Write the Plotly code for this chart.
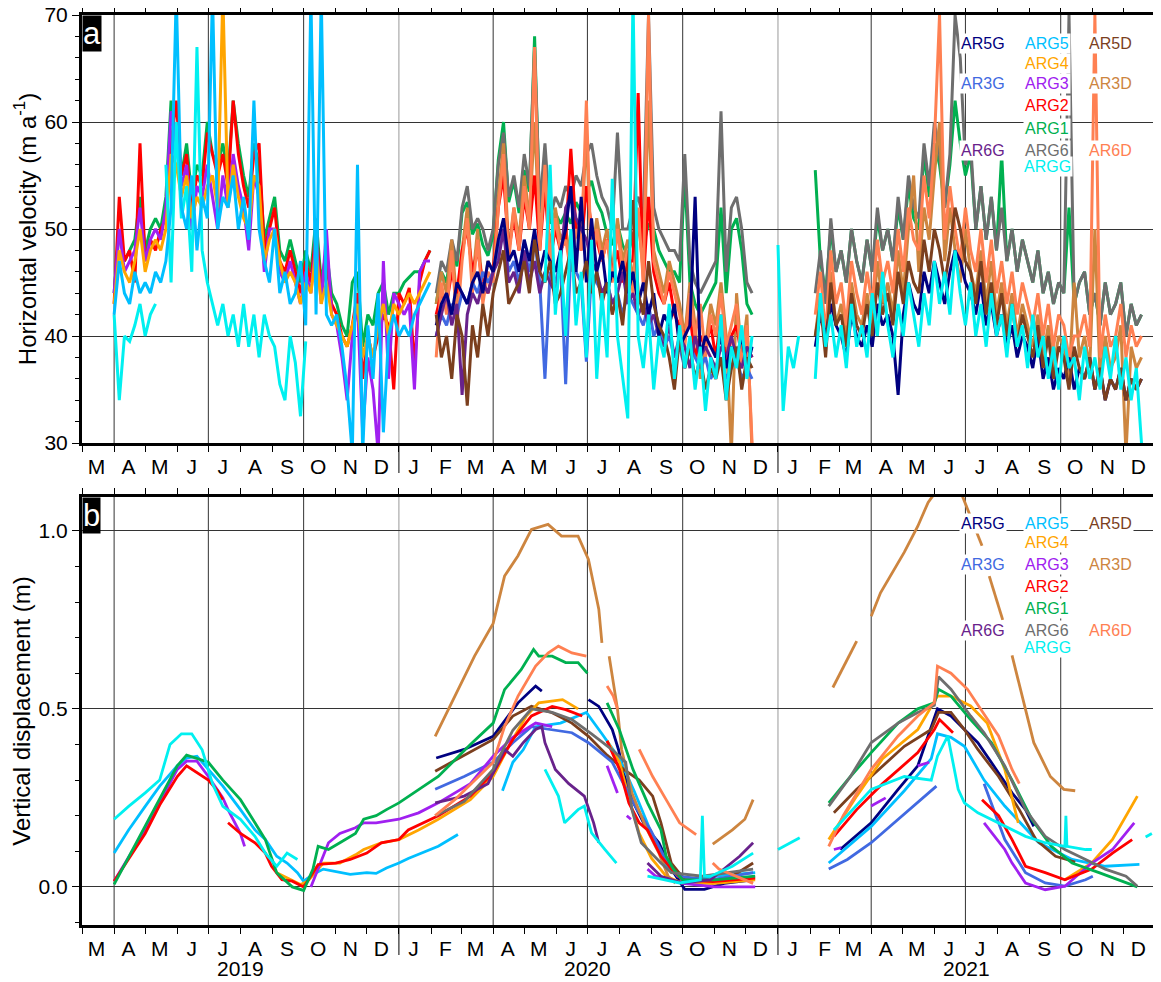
import pandas as pd
import plotly.graph_objects as go

# ---------------- colours ----------------
COLORS = {
    "AR5G": "#000080", "ARG5": "#00BFFF", "AR5D": "#7B3F1E",
    "ARG4": "#FFA500", "AR3G": "#4169E1", "ARG3": "#A020F0",
    "AR3D": "#CD853F", "ARG2": "#FF0000", "ARG1": "#00B050",
    "AR6G": "#68228B", "ARG6": "#6E6E6E", "AR6D": "#FF8052",
    "ARGG": "#00F0F0",
}

# ---------------- panel a: horizontal velocity (m/a), 5-day samples ----------------
A2019_START = "2019-04-01"
ARG1_a_2019 = [44, 50, 47, 48, 49, 53, 48, 50, 51, 50, 53, 62, 58, 55, 58, 53, 56, 55, 60, 57, 56, 58, 55, 62, 58, 55, 53, 58, 56, 49, 51, 53, 48, 47, 49, 47, 45, 48, 46, 51, 45, 48, 44, 43, 41, 40, 45, 46, 39, 42, 41, 44, 45, 42, 44, 44, 45, 45.5, 46, 46, 47, 48]
ARG2_a_2019 = [43, 53, 47, 48, 45, 58, 47, 49, 48, 50, 51, 58, 62, 55, 57, 52, 55, 54, 59, 57, 55, 57, 54, 62, 57, 54, 52, 57, 58, 48, 50, 52, 47, 46, 48, 46, 44, 47, 45, 50, 44, 47, 43, 42, 40, 39, 41, 44, 36, 40, 38, 40, 42, 41, 35, 44, 43, 44.5, 37, 45, 47, 48]
ARG3_a_2019 = [44, 50, 46, 47, 48, 52, 47, 49, 50, 49, 52, 61, 58, 54, 56, 50, 54, 53, 56, 53, 50, 55, 52, 57, 54, 52, 48, 55, 53, 46, 50, 50, 46, 45, 47, 45, 43, 46, 44, 49, 43, 50, 42, 41, 38, 34, 40, 43, 31, 38, 35, 29, 47, 36, 44, 43, 42, 43, 35, 46, 47, 47]
ARG4_a_2019 = [43, 48, 46, 45, 47, 50, 46, 48, 49, 48, 50, 57, 56, 53, 55, 51, 53, 52, 54, 55, 52, 72, 52, 56, 53, 51, 50, 55, 54, 47, 49, 50, 47, 45, 46, 45, 43, 45, 44, 48, 43, 45, 42, 41, 40, 39, 41, 43, 38, 40, 38, 41, 43, 40, 43, 42, 43, 44, 43, 44, 45, 46]
ARG5_a_2019 = [42, 47, 44, 43, 46, 44, 45, 44, 46, 45, 47, 52, 72, 52, 50, 55, 48, 53, 51, 72, 50, 53, 52, 55, 50, 53, 49, 62, 50, 47, 45, 50, 44, 46, 43, 44, 47, 41, 72, 42, 72, 42, 41, 42, 39, 35, 29, 56, 29, 41, 36, 44, 31, 40, 42, 40, 41, 40, 42, 43, 44, 45]
ARGG_a_2019 = [42, 34, 40, 39.5, 41, 43, 40, 42, 43, None, 56, 45, 60, 51, 54, 46, 67, 48, 45, 43, 41, 43, 40, 42, 39, 43, 39, 42, 38, 42, 40, 39, 35.5, 34, 40, 37.5, 32.5, 39.5]

A2020_START = "2020-02-06"
ARG1_a_2020 = [43, 46, 45, 48.5, 46.5, 51.5, 52.5, 49.5, 50.5, 48.5, 47.5, 49.5, 56.5, 60, 52.5, 54.5, 51.5, 55.5, 53.5, 68, 51.5, 56.5, 50.5, 51.5, 50.5, 51.5, 50.5, 52.5, 51.5, 53.5, 54.5, 52.5, 51.5, 49.5, 48.5, 50.5, 48.5, 47.5, 49.5, 50.5, 48.5, 50.5, 50, 48, 47, 46, 46, 45, 55, 45, 43, 42, 43, 44, 45, 52, 44, 50, 51, 48, 43, 42]
ARG6_a_2020 = [44, 47, 46, 49, 47, 52, 54, 50, 51, 50, 48, 50, 56, 59, 53, 55, 52, 57, 54, 67, 52, 58, 51, 53, 52, 54, 53, 55, 54, 57, 58, 55, 53, 52, 50, 59, 50, 50, 52, 53, 51, 70, 52, 50, 49, 48, 48, 47, 57, 47, 45, 44, 45, 46, 47, 61, 46, 52, 53, 50, 45, 44]
AR3D_a_2020 = [43, 46, 44, 49, 43, 48, 52, 45, 50, 44, 47, 46, 53, 58, 48, 52, 49, 55, 51, 60, 49, 55, 48, 52, 49, 50, 47, 51, 49, 59, 47, 51, 48, 50, 46, 51, 47, 49, 45, 51, 46, 62, 48, 46, 44, 47, 45, 43, 40, 45, 41, 36, 39, 43, 41, 45, 40, 29, 44, 38, 42, 29]
ARG2_a_2020 = [42, 44, 43, 46, 44, 48, 50, 46, 48, 45, 44, 46, 52, 55, 48, 51, 48, 53, 50, 55, 48, 54, 47, 50, 48, 49, 57.5, 50, 48, 54, 50, 49, 47, 49, 46, 48, 45, 47, 47, 62.7, 45, 53, 46, 44, 43, 45, 42, 41, 40, 42, 38, 40, 39, 41, 38, 42, 37, 40, 41, 38, 39, 38]
AR6D_a_2020 = [38, 45, 42, 48, 41, 47, 51, 44, 49, 43, 46, 45, 52, 57, 47, 52, 48, 54, 50, 67, 48, 56, 47, 51, 48, 49, 46, 50, 48, 62, 46, 50, 47, 49, 45, 50, 46, 48, 44, 52, 45, 70, 47, 45, 43, 46, 44, 42, 39, 44, 40, 43, 38, 42, 40, 44, 39, 41, 43, 37, 41, 30]
AR3G_a_2020 = [40, 42, 41, 43, 42, 44, 43, 45, 44, 46, 45, 46, 48, 50, 46, 47, 45, 48, 46, 49, 45, 36, 46, 45, 47, 35.5, 48, 46, 45, 37.6, 46, 45, 44, 45, 43, 44, 42, 44, 43, 42, 41, 43, 40, 41, 39, 40, 38, 39, 37, 39, 38, 37, 38, 36, 37, 38, 36, 37, 38, 36, 37, 36]
AR6G_a_2020 = [40, 42, 44, 41, 43, 34.5, 42, 44, 43, 45, 44, 46, 47, 50, 45, 46, 44, 48, 45, 47, 44, 46, 45, 44, 47, 52, 53, 51, 50, 49, 47, 46, 44, 45, 43, 44, 46, 43, 44, 42, 43, 41, 42, 40, 39, 41, 38, 40, 39, 37, 40, 38, 39, 38, 37, 39, 38, 40, 38, 37, 39, 38]
AR5G_a_2020 = [41, 43, 44, 42, 45, 44, 43, 45, 46, 44, 47, 46, 49, 51, 47, 48, 46, 49, 47, 50, 46, 48, 47, 46, 48, 50, 54, 46, 53, 45, 51, 46, 48, 44, 46, 45, 47, 44, 46, 43, 45, 42, 44, 40, 42, 41, 43, 39, 40, 41, 53, 38, 40, 39, 38, 40, 37, 39, 38, 40, 37, 39]
AR5D_a_2020 = [42, 38, 40, 36, 42, 40, 33.5, 41, 38, 43, 40, 44, 46, 48, 43, 44, 45, 47, 44, 49, 46, 45, 47, 43, 44, 46, 48, 44, 45, 47, 44, 46, 43, 45, 42, 44, 41, 46, 52.7, 44, 42, 47, 43, 41, 40, 38, 35, 40, 37, 39, 36, 38, 35, 37, 36, 38, 34, 37, 39, 35, 38, 37]
ARGG_a_2020_START = "2020-05-21"
ARGG_a_2020 = [45, 56, 42, 48, 40, 50, 41, 46, 38, 49, 36, 44, 38, 54.7, 40, 36, 32.3, 72, 40, 37, 42, 35, 40, 38, 43, 36, 41, 37, 40, 35, 39, 33, 38, 36, 42, 34, 39, 37, 41, 36, 40]

A2021_START = "2021-02-06"
ARGG_a_2021_JAN_START = "2021-01-01"
ARGG_a_2021_JAN = [48.5, 33, 39, 37, 40]
ARG1_a_2021 = [55.5, 47, 44, 50, 46, 48, 45, 50, 47, 45, 49, 46, 51, 48, 50, 47, 52, 49, 54, 51, 50, 57, 53, 58, 56, 52, 56, 62, 58, 55, 57, 50, 54, 49, 53, 48, 57, 47, 50, 46, 49, 47, 45, 48, 44, 46, 43, 45, 44, 52, 43, 45, 46, 42, 44, 41, 45, 42, 43, 45, 40, 43, 41, 42]
ARG6_a_2021 = [44, 48, 43, 51, 46, 48, 45, 50, 47, 45, 49, 46, 52, 48, 50, 47, 53, 49, 55, 52, 51, 58, 54, 60, 57, 52, 57, 70, 66, 56, 58, 50, 54, 49, 53, 48, 52, 47, 50, 46, 49, 47, 45, 48, 44, 46, 43, 45, 44, 70, 43, 45, 46, 42, 44, 41, 45, 42, 43, 45, 40, 43, 41, 42]
AR3D_a_2021 = [40, 44, 39, 46, 41, 43, 40, 45, 42, 41, 44, 41, 47, 43, 45, 42, 48, 44, 50, 55, 46, 52, 49, 55, 60, 47, 52, 48, 45, 50, 46, 44, 48, 43, 47, 42, 45, 41, 44, 40, 43, 41, 39, 42, 38, 41, 37, 40, 39, 36, 45, 38, 40, 37, 50, 36, 40, 37, 38, 41, 29, 39, 37, 38]
AR6D_a_2021 = [42, 46, 40, 48, 43, 45, 41, 47, 44, 42, 46, 43, 49, 45, 47, 44, 50, 46, 52, 49, 48, 55, 51, 58, 70, 49, 54, 50, 47, 52, 48, 46, 50, 45, 49, 44, 47, 43, 46, 42, 45, 43, 41, 44, 40, 43, 39, 42, 41, 38, 40, 40, 42, 39, 70, 38, 42, 39, 40, 43, 38, 41, 39, 40]
AR5G_a_2021 = [39, 42, 40, 43, 41, 40, 38, 42, 40, 39, 41, 39, 43, 41, 42, 40, 34.5, 42, 45, 43, 42, 46, 44, 47, 45, 43, 46, 48, 47, 45, 44, 42, 45, 41, 43, 40, 42, 39, 41, 38, 40, 39, 37, 40, 36, 38, 35, 37, 36, 38, 35, 37, 36, 38, 35, 37, 34, 36, 35, 37, 34, 36, 35, 36]
AR5D_a_2021 = [40, 43, 38, 45, 41, 42, 39, 44, 41, 40, 43, 40, 45, 42, 44, 41, 46, 43, 47, 45, 44, 49, 46, 50, 48, 45, 48, 52, 50, 47, 46, 43, 47, 42, 45, 41, 44, 40, 43, 39, 42, 40, 38, 41, 37, 40, 36, 39, 38, 35, 39, 37, 36, 38, 35, 37, 34, 36, 35, 37, 34, 36, 35, 36]
ARGG_a_2021 = [36, 44, 39, 42, 38, 41, 37, 43, 39, 41, 38, 44, 40, 46, 41, 38, 43, 40, 45, 42, 39, 44, 41, 47, 43, 46, 42, 48, 44, 41, 45, 40, 43, 39, 44, 40, 42, 38, 43, 39, 41, 37, 42, 38, 40, 36, 39, 35, 40, 37, 38, 34, 39, 36, 38, 35, 39, 36, 40, 35, 38, 34, 37, 30]

# ---------------- panel b: vertical displacement (m) ----------------
ARG2_b = [("2019-04-01", 0.016), ("2019-04-15", 0.08), ("2019-05-01", 0.15), ("2019-05-15", 0.23), ("2019-06-01", 0.31), ("2019-06-10", 0.34), ("2019-06-20", 0.32), ("2019-07-01", 0.30), ("2019-07-10", 0.27), ("2019-07-15", 0.245), ("2019-07-18", None), ("2019-07-20", 0.18), ("2019-08-01", 0.15), ("2019-08-15", 0.124), ("2019-08-25", 0.095), ("2019-08-31", 0.058), ("2019-09-10", 0.02), ("2019-09-20", 0.016), ("2019-10-01", 0.0), ("2019-10-10", 0.04), ("2019-10-15", 0.063), ("2019-11-01", 0.067), ("2019-11-15", 0.077), ("2019-12-01", 0.095), ("2019-12-15", 0.124), ("2020-01-01", 0.133), ("2020-01-10", 0.16), ("2020-02-08", 0.20), ("2020-03-10", 0.255), ("2020-04-01", 0.32), ("2020-04-20", 0.414), ("2020-05-08", 0.48), ("2020-05-28", 0.507), ("2020-06-10", 0.498), ("2020-06-26", 0.48), ("2020-07-05", None), ("2020-07-20", 0.41), ("2020-08-01", 0.33), ("2020-08-10", 0.236), ("2020-08-20", 0.18), ("2020-08-28", 0.16), ("2020-09-10", 0.086), ("2020-09-20", 0.05), ("2020-10-01", 0.02), ("2020-10-30", 0.015), ("2020-11-20", 0.02), ("2020-12-10", 0.025), ("2020-12-15", None), ("2021-02-24", 0.142), ("2021-03-18", 0.217), ("2021-04-12", 0.29), ("2021-05-16", 0.377), ("2021-06-01", 0.442), ("2021-06-06", 0.47), ("2021-06-19", 0.433), ("2021-06-25", None), ("2021-07-17", 0.245), ("2021-08-02", 0.2), ("2021-08-15", 0.133), ("2021-08-28", 0.058), ("2021-09-16", 0.04), ("2021-10-05", 0.02), ("2021-10-31", 0.05), ("2021-11-20", 0.095), ("2021-12-09", 0.133)]
ARG3_b = [("2019-04-01", 0.016), ("2019-05-01", 0.16), ("2019-06-01", 0.33), ("2019-06-10", 0.353), ("2019-06-20", 0.353), ("2019-07-01", 0.31), ("2019-07-15", 0.25), ("2019-07-20", 0.217), ("2019-08-01", 0.15), ("2019-08-05", 0.114), ("2019-08-08", None), ("2019-10-08", 0.0), ("2019-10-20", 0.086), ("2019-10-25", 0.124), ("2019-11-05", 0.15), ("2019-11-20", 0.166), ("2019-11-28", 0.18), ("2019-12-10", 0.18), ("2020-01-01", 0.19), ("2020-01-20", 0.208), ("2020-02-08", 0.236), ("2020-03-10", 0.29), ("2020-04-01", 0.367), ("2020-04-20", 0.42), ("2020-05-12", 0.46), ("2020-05-28", 0.45), ("2020-06-05", None), ("2020-07-20", 0.34), ("2020-07-30", 0.264), ("2020-08-04", None), ("2020-08-08", 0.2), ("2020-08-12", 0.19), ("2020-08-15", None), ("2020-08-28", 0.05), ("2020-09-05", 0.03), ("2020-10-01", 0.01), ("2020-11-01", 0.0), ("2020-12-10", 0.0), ("2020-12-15", None), ("2021-02-24", 0.105), ("2021-03-03", 0.11), ("2021-03-05", None), ("2021-04-01", 0.227), ("2021-04-15", 0.25), ("2021-04-18", None), ("2021-05-16", 0.34), ("2021-05-27", 0.35), ("2021-05-30", None), ("2021-07-19", 0.18), ("2021-08-08", 0.105), ("2021-08-15", 0.067), ("2021-08-28", 0.011), ("2021-09-16", -0.008), ("2021-10-05", 0.002), ("2021-10-31", 0.067), ("2021-11-20", 0.105), ("2021-12-11", 0.18)]
ARG4_b = [("2019-09-05", 0.04), ("2019-09-28", 0.007), ("2019-10-05", 0.016), ("2019-10-20", 0.067), ("2019-11-05", 0.067), ("2019-11-20", 0.09), ("2019-11-28", 0.105), ("2019-12-15", 0.124), ("2020-01-01", 0.133), ("2020-01-20", 0.16), ("2020-02-08", 0.19), ("2020-03-10", 0.245), ("2020-04-01", 0.31), ("2020-04-17", 0.40), ("2020-05-03", 0.48), ("2020-05-15", 0.517), ("2020-06-07", 0.526), ("2020-06-22", 0.50), ("2020-06-28", None), ("2020-07-20", 0.41), ("2020-08-01", 0.35), ("2020-08-10", 0.25), ("2020-08-20", 0.15), ("2020-09-01", 0.08), ("2020-09-15", 0.03), ("2020-10-01", 0.01), ("2020-11-01", 0.01), ("2020-12-10", 0.02), ("2020-12-15", None), ("2021-02-19", 0.133), ("2021-03-18", 0.255), ("2021-04-12", 0.36), ("2021-05-16", 0.442), ("2021-06-04", 0.536), ("2021-06-17", 0.536), ("2021-07-06", 0.508), ("2021-07-22", 0.46), ("2021-08-08", 0.33), ("2021-08-21", 0.18), ("2021-08-25", None), ("2021-10-05", 0.02), ("2021-10-31", 0.067), ("2021-11-20", 0.133), ("2021-12-14", 0.255)]
ARG1_b = [("2019-04-01", 0.007), ("2019-05-01", 0.17), ("2019-06-01", 0.34), ("2019-06-10", 0.37), ("2019-06-20", 0.36), ("2019-07-01", 0.35), ("2019-07-15", 0.30), ("2019-08-01", 0.245), ("2019-08-15", 0.18), ("2019-08-25", 0.133), ("2019-09-05", 0.04), ("2019-09-20", 0.0), ("2019-10-01", -0.01), ("2019-10-10", 0.05), ("2019-10-15", 0.114), ("2019-10-25", 0.105), ("2019-11-05", 0.124), ("2019-11-20", 0.15), ("2019-11-28", 0.19), ("2019-12-10", 0.20), ("2019-12-20", 0.217), ("2020-01-01", 0.236), ("2020-01-20", 0.273), ("2020-02-08", 0.31), ("2020-03-10", 0.40), ("2020-04-01", 0.46), ("2020-04-12", 0.554), ("2020-04-28", 0.61), ("2020-05-10", 0.667), ("2020-05-15", 0.648), ("2020-05-28", 0.648), ("2020-06-10", 0.63), ("2020-06-22", 0.63), ("2020-07-01", 0.60), ("2020-07-05", None), ("2020-07-20", 0.517), ("2020-08-01", 0.44), ("2020-08-14", 0.33), ("2020-08-28", 0.236), ("2020-09-10", 0.16), ("2020-09-15", 0.086), ("2020-09-22", 0.05), ("2020-10-01", 0.02), ("2020-11-01", 0.02), ("2020-12-10", 0.03), ("2020-12-15", None), ("2021-02-19", 0.236), ("2021-03-12", 0.31), ("2021-04-01", 0.377), ("2021-04-27", 0.46), ("2021-05-16", 0.50), ("2021-06-01", 0.517), ("2021-06-05", 0.555), ("2021-06-17", 0.536), ("2021-07-06", 0.47), ("2021-07-26", 0.405), ("2021-08-15", 0.30), ("2021-09-03", 0.19), ("2021-09-22", 0.114), ("2021-10-12", 0.067), ("2021-11-07", 0.04), ("2021-11-26", 0.02), ("2021-12-14", 0.0)]
ARG5_b = [("2019-04-01", 0.095), ("2019-04-15", 0.16), ("2019-05-01", 0.226), ("2019-05-15", 0.283), ("2019-06-01", 0.34), ("2019-06-10", 0.362), ("2019-06-20", 0.367), ("2019-07-01", 0.33), ("2019-07-15", 0.283), ("2019-08-01", 0.217), ("2019-08-15", 0.16), ("2019-08-25", 0.133), ("2019-09-05", 0.086), ("2019-09-15", 0.067), ("2019-09-25", 0.04), ("2019-10-01", 0.016), ("2019-10-10", 0.035), ("2019-10-20", 0.05), ("2019-11-01", 0.044), ("2019-11-15", 0.035), ("2019-12-01", 0.04), ("2019-12-10", 0.038), ("2019-12-20", 0.053), ("2020-01-01", 0.067), ("2020-01-10", 0.08), ("2020-02-08", 0.114), ("2020-02-27", 0.147), ("2020-03-02", None), ("2020-04-10", 0.27), ("2020-04-20", 0.35), ("2020-04-30", 0.385), ("2020-05-12", 0.45), ("2020-06-05", 0.46), ("2020-06-30", 0.49), ("2020-07-15", 0.43), ("2020-08-01", 0.36), ("2020-08-15", 0.27), ("2020-09-01", 0.15), ("2020-09-15", 0.06), ("2020-10-01", 0.02), ("2020-11-01", 0.03), ("2020-12-10", 0.04), ("2020-12-15", None), ("2021-02-19", 0.067), ("2021-04-01", 0.17), ("2021-05-03", 0.27), ("2021-05-29", 0.36), ("2021-06-04", 0.43), ("2021-06-17", 0.42), ("2021-06-30", 0.395), ("2021-07-19", 0.30), ("2021-08-08", 0.227), ("2021-09-10", 0.124), ("2021-10-12", 0.077), ("2021-11-13", 0.058), ("2021-12-16", 0.063)]
ARGG_b = [("2019-04-01", 0.19), ("2019-04-15", 0.226), ("2019-05-01", 0.264), ("2019-05-15", 0.30), ("2019-05-25", 0.40), ("2019-06-05", 0.43), ("2019-06-15", 0.43), ("2019-06-25", 0.385), ("2019-07-05", 0.29), ("2019-07-15", 0.226), ("2019-08-01", 0.19), ("2019-08-15", 0.142), ("2019-08-25", 0.095), ("2019-09-05", 0.058), ("2019-09-15", 0.095), ("2019-09-25", 0.077), ("2019-09-28", None), ("2020-05-21", 0.33), ("2020-06-03", 0.255), ("2020-06-09", 0.18), ("2020-06-22", 0.217), ("2020-06-28", 0.227), ("2020-07-05", 0.152), ("2020-07-18", 0.105), ("2020-07-29", 0.067), ("2020-08-05", None), ("2020-08-28", 0.03), ("2020-09-28", 0.011), ("2020-10-18", 0.02), ("2020-10-20", 0.2), ("2020-10-22", 0.03), ("2020-10-28", 0.03), ("2020-11-18", 0.058), ("2020-12-08", 0.095), ("2020-12-12", None), ("2021-01-01", 0.105), ("2021-01-22", 0.138), ("2021-01-25", None), ("2021-02-24", 0.16), ("2021-04-01", 0.274), ("2021-05-03", 0.31), ("2021-05-29", 0.30), ("2021-06-04", 0.367), ("2021-06-14", 0.424), ("2021-06-24", 0.274), ("2021-06-30", 0.236), ("2021-07-13", 0.208), ("2021-08-02", 0.18), ("2021-08-15", 0.16), ("2021-08-28", 0.142), ("2021-09-16", 0.124), ("2021-10-05", 0.114), ("2021-10-06", 0.2), ("2021-10-07", 0.114), ("2021-10-25", 0.105), ("2021-10-31", 0.105), ("2021-11-03", None), ("2021-12-22", 0.14), ("2021-12-28", 0.15)]
AR3D_b = [("2020-02-05", 0.423), ("2020-02-24", 0.536), ("2020-03-14", 0.648), ("2020-04-01", 0.74), ("2020-04-12", 0.873), ("2020-04-25", 0.93), ("2020-05-08", 1.004), ("2020-05-24", 1.018), ("2020-06-06", 0.985), ("2020-06-22", 0.985), ("2020-07-02", 0.92), ("2020-07-12", 0.78), ("2020-07-15", 0.685), ("2020-07-18", None), ("2020-07-22", 0.648), ("2020-07-30", 0.5), ("2020-08-03", 0.386), ("2020-08-13", 0.264), ("2020-08-26", 0.17), ("2020-09-08", 0.095), ("2020-09-17", 0.03), ("2020-09-24", 0.01), ("2020-09-30", None), ("2020-10-30", 0.12), ("2020-11-18", 0.16), ("2020-11-30", 0.19), ("2020-12-08", 0.245), ("2020-12-12", None), ("2021-02-23", 0.56), ("2021-03-18", 0.69), ("2021-03-22", None), ("2021-04-01", 0.76), ("2021-04-10", 0.826), ("2021-05-03", 0.94), ("2021-05-16", 1.013), ("2021-05-26", 1.08), ("2021-06-05", 1.12), ("2021-06-10", None), ("2021-06-28", 1.098), ("2021-07-11", 1.005), ("2021-07-17", 0.958), ("2021-07-20", None), ("2021-07-24", 0.873), ("2021-08-06", 0.75), ("2021-08-10", None), ("2021-08-15", 0.65), ("2021-08-23", 0.555), ("2021-09-05", 0.405), ("2021-09-21", 0.31), ("2021-10-04", 0.274), ("2021-10-15", 0.27)]
AR6D_b = [("2020-02-05", 0.20), ("2020-02-24", 0.245), ("2020-03-18", 0.31), ("2020-04-01", 0.35), ("2020-04-12", 0.45), ("2020-04-25", 0.536), ("2020-05-12", 0.62), ("2020-05-24", 0.657), ("2020-06-03", 0.676), ("2020-06-16", 0.657), ("2020-06-30", 0.648), ("2020-07-04", None), ("2020-07-20", 0.564), ("2020-07-26", 0.536), ("2020-07-30", 0.50), ("2020-08-05", None), ("2020-08-20", 0.386), ("2020-09-02", 0.31), ("2020-09-15", 0.245), ("2020-09-28", 0.18), ("2020-10-14", 0.147), ("2020-10-20", None), ("2020-10-30", 0.067), ("2020-11-05", 0.05), ("2020-12-08", 0.01), ("2020-12-12", None), ("2021-02-19", 0.114), ("2021-03-05", 0.20), ("2021-04-01", 0.33), ("2021-04-27", 0.424), ("2021-05-16", 0.48), ("2021-06-01", 0.517), ("2021-06-04", 0.62), ("2021-06-17", 0.60), ("2021-07-03", 0.555), ("2021-07-20", 0.48), ("2021-08-02", 0.424), ("2021-08-15", 0.33), ("2021-08-22", 0.29)]
AR5D_b = [("2020-02-05", 0.325), ("2020-03-03", 0.367), ("2020-04-01", 0.414), ("2020-04-20", 0.48), ("2020-05-08", 0.507), ("2020-05-28", 0.489), ("2020-06-16", 0.46), ("2020-07-02", 0.423), ("2020-07-20", 0.37), ("2020-08-05", 0.33), ("2020-08-20", 0.30), ("2020-09-02", 0.255), ("2020-09-10", 0.18), ("2020-09-20", 0.067), ("2020-10-03", 0.02), ("2020-10-30", 0.01), ("2020-11-18", 0.03), ("2020-12-08", 0.067), ("2020-12-12", None), ("2021-02-24", 0.208), ("2021-03-18", 0.274), ("2021-04-01", 0.31), ("2021-05-03", 0.395), ("2021-05-29", 0.442), ("2021-06-05", 0.49), ("2021-06-17", 0.49), ("2021-06-30", 0.442), ("2021-07-13", 0.386), ("2021-08-02", 0.31), ("2021-08-22", 0.217), ("2021-09-07", 0.133), ("2021-09-26", 0.086), ("2021-10-15", 0.07)]
AR5G_b = [("2020-02-06", 0.362), ("2020-03-04", 0.386), ("2020-04-01", 0.423), ("2020-04-25", 0.517), ("2020-05-12", 0.564), ("2020-05-18", 0.55), ("2020-05-22", None), ("2020-07-02", 0.526), ("2020-07-12", 0.507), ("2020-07-25", 0.442), ("2020-07-31", 0.386), ("2020-08-06", 0.31), ("2020-08-13", 0.245), ("2020-08-26", 0.17), ("2020-09-08", 0.124), ("2020-09-20", 0.05), ("2020-10-03", -0.007), ("2020-10-22", -0.007), ("2020-11-10", 0.01), ("2020-12-08", 0.02), ("2020-12-12", None), ("2021-03-02", 0.105), ("2021-04-01", 0.18), ("2021-04-27", 0.274), ("2021-05-16", 0.34), ("2021-06-04", 0.50), ("2021-06-17", 0.48), ("2021-06-30", 0.442), ("2021-07-13", 0.405), ("2021-08-02", 0.32), ("2021-08-15", 0.264), ("2021-08-28", 0.217), ("2021-09-05", 0.17)]
AR3G_b = [("2020-02-05", 0.274), ("2020-03-04", 0.31), ("2020-04-01", 0.35), ("2020-04-20", 0.405), ("2020-05-08", 0.45), ("2020-05-28", 0.442), ("2020-06-16", 0.433), ("2020-07-02", 0.405), ("2020-07-25", 0.35), ("2020-08-06", 0.283), ("2020-08-18", 0.217), ("2020-08-31", 0.16), ("2020-09-13", 0.086), ("2020-09-26", 0.03), ("2020-10-28", 0.02), ("2020-12-08", 0.04), ("2020-12-12", None), ("2021-02-19", 0.05), ("2021-03-09", 0.077), ("2021-04-01", 0.124), ("2021-04-27", 0.19), ("2021-05-16", 0.236), ("2021-06-03", 0.283), ("2021-06-06", None), ("2021-07-19", 0.29), ("2021-08-08", 0.133), ("2021-08-28", 0.04), ("2021-09-16", 0.011), ("2021-10-05", 0.002), ("2021-10-25", 0.02), ("2021-11-01", 0.03)]
AR6G_b = [("2020-02-05", 0.236), ("2020-03-04", 0.255), ("2020-03-27", 0.29), ("2020-04-12", 0.386), ("2020-04-20", 0.367), ("2020-04-30", 0.405), ("2020-05-12", 0.442), ("2020-05-18", 0.45), ("2020-05-21", 0.405), ("2020-05-31", 0.33), ("2020-06-13", 0.29), ("2020-06-28", 0.255), ("2020-07-07", 0.18), ("2020-07-12", 0.124), ("2020-07-15", None), ("2020-08-28", 0.067), ("2020-09-10", 0.03), ("2020-10-01", 0.011), ("2020-10-28", 0.02), ("2020-11-25", 0.086), ("2020-12-08", 0.124)]
ARG6_b = [("2020-02-05", 0.20), ("2020-03-04", 0.24), ("2020-04-01", 0.33), ("2020-04-20", 0.44), ("2020-05-08", 0.50), ("2020-05-28", 0.49), ("2020-06-16", 0.47), ("2020-07-05", 0.43), ("2020-07-25", 0.385), ("2020-08-07", 0.35), ("2020-08-13", 0.217), ("2020-08-22", 0.124), ("2020-09-10", 0.067), ("2020-09-20", 0.04), ("2020-10-20", 0.03), ("2020-12-08", 0.05), ("2020-12-12", None), ("2021-02-19", 0.227), ("2021-03-12", 0.31), ("2021-04-01", 0.405), ("2021-04-27", 0.46), ("2021-05-16", 0.49), ("2021-06-01", 0.51), ("2021-06-05", 0.59), ("2021-06-17", 0.555), ("2021-07-06", 0.48), ("2021-07-19", 0.433), ("2021-08-08", 0.34), ("2021-08-28", 0.217), ("2021-09-16", 0.142), ("2021-10-05", 0.105), ("2021-10-25", 0.077), ("2021-11-13", 0.05), ("2021-12-03", 0.03), ("2021-12-14", 0.002)]

# ---------------- axis labels ----------------
MONTH_LETTERS = list("MAMJJASOND") + list("JFMAMJJASOND") + list("JFMAMJJASOND")
YEAR_LABELS = ["2019", "2020", "2021"]
YEAR_LABEL_DATES = ["2019-08-01", "2020-07-01", "2021-07-02"]
QUARTER_LINES = ["2019-04-01", "2019-07-01", "2019-10-01", "2020-01-01", "2020-04-01", "2020-07-01",
                 "2020-10-01", "2021-01-01", "2021-04-01", "2021-07-01", "2021-10-01"]
YEAR_STARTS = ["2020-01-01", "2021-01-01"]
LEGEND_ITEMS = [("AR5G", 0, 0), ("ARG5", 1, 0), ("AR5D", 2, 0), ("ARG4", 1, 1), ("AR3G", 0, 2),
                ("ARG3", 1, 2), ("AR3D", 2, 2), ("ARG2", 1, 3), ("ARG1", 1, 4), ("AR6G", 0, 5),
                ("ARG6", 1, 5), ("AR6D", 2, 5), ("ARGG", 1, 6)]

fig = go.Figure()


def add_5d(name, start, vals, xa, ya, width=3):
    x = pd.date_range(start, periods=len(vals), freq="5D")
    fig.add_trace(go.Scatter(x=x, y=vals, mode="lines", xaxis=xa, yaxis=ya,
                             line=dict(color=COLORS[name], width=width),
                             showlegend=False, hoverinfo="skip"))


def add_pairs(name, pairs, xa, ya, width=2.8):
    fig.add_trace(go.Scatter(x=[p[0] for p in pairs], y=[p[1] for p in pairs],
                             mode="lines", xaxis=xa, yaxis=ya,
                             line=dict(color=COLORS[name], width=width),
                             showlegend=False, hoverinfo="skip"))


# panel a (bottom -> top drawing order)
add_5d("ARG1", A2019_START, ARG1_a_2019, "x", "y")
add_5d("ARG2", A2019_START, ARG2_a_2019, "x", "y")
add_5d("ARG3", A2019_START, ARG3_a_2019, "x", "y")
add_5d("ARG4", A2019_START, ARG4_a_2019, "x", "y")
add_5d("ARG1", A2020_START, ARG1_a_2020, "x", "y")
add_5d("ARG1", A2021_START, ARG1_a_2021, "x", "y")
add_5d("ARG6", A2020_START, ARG6_a_2020, "x", "y")
add_5d("ARG6", A2021_START, ARG6_a_2021, "x", "y")
add_5d("AR3D", A2020_START, AR3D_a_2020, "x", "y")
add_5d("AR3D", A2021_START, AR3D_a_2021, "x", "y")
add_5d("ARG2", A2020_START, ARG2_a_2020, "x", "y")
add_5d("AR6D", A2020_START, AR6D_a_2020, "x", "y")
add_5d("AR6D", A2021_START, AR6D_a_2021, "x", "y")
add_5d("AR3G", A2020_START, AR3G_a_2020, "x", "y")
add_5d("AR6G", A2020_START, AR6G_a_2020, "x", "y")
add_5d("AR5G", A2020_START, AR5G_a_2020, "x", "y")
add_5d("AR5G", A2021_START, AR5G_a_2021, "x", "y")
add_5d("AR5D", A2020_START, AR5D_a_2020, "x", "y")
add_5d("AR5D", A2021_START, AR5D_a_2021, "x", "y")
add_5d("ARGG", A2019_START, ARGG_a_2019, "x", "y")
add_5d("ARGG", ARGG_a_2020_START, ARGG_a_2020, "x", "y")
add_5d("ARGG", ARGG_a_2021_JAN_START, ARGG_a_2021_JAN, "x", "y")
add_5d("ARGG", A2021_START, ARGG_a_2021, "x", "y")
add_5d("ARG5", A2019_START, ARG5_a_2019, "x", "y")

# panel b
for nm, pr in [("AR5G", AR5G_b), ("ARG5", ARG5_b), ("AR5D", AR5D_b), ("ARG4", ARG4_b),
               ("AR3G", AR3G_b), ("ARG3", ARG3_b), ("AR3D", AR3D_b), ("ARG2", ARG2_b),
               ("ARG1", ARG1_b), ("AR6G", AR6G_b), ("ARG6", ARG6_b), ("AR6D", AR6D_b),
               ("ARGG", ARGG_b)]:
    add_pairs(nm, pr, "x2", "y2")

# ---------------- layout ----------------
OFF = 8                      # page body margin of the html page
W, H = 1161 - OFF, 982 - OFF
ML, MR, MT, MB = 82 - OFF, 5, 15 - OFF, 57
PH = H - MT - MB
A_BOTTOM, B_TOP = 443, 497   # page pixel rows
dom_a = [(925 - A_BOTTOM) / PH, 1.0]
dom_b = [0.0, (925 - B_TOP) / PH]


def py(ypage):
    return (925 - ypage) / PH


def px(xpage):
    return (xpage - 82) / (W - ML - MR)


month_mid = [d + pd.Timedelta(days=14) for d in pd.date_range("2019-03-01", "2021-12-01", freq="MS")]
FONT = "Liberation Sans, Arial, Helvetica, sans-serif"

xcommon = dict(range=["2019-03-01", "2022-01-01"], tickmode="array", tickvals=month_mid,
               ticktext=MONTH_LETTERS, ticks="", showgrid=False, zeroline=False, automargin=False,
               showline=True, linewidth=3, linecolor="black", mirror="ticks",
               ticklabelstandoff=3, tickfont=dict(size=21, family=FONT), ticklabeloverflow="allow",
               minor=dict(ticks="outside", ticklen=6, tickwidth=1, tickcolor="black",
                          dtick="M1", tick0="2019-03-01", showgrid=False))
fig.update_layout(
    width=W, height=H, margin=dict(l=ML, r=MR, t=MT, b=MB, autoexpand=False),
    plot_bgcolor="white", paper_bgcolor="white", showlegend=False,
    font=dict(family=FONT, color="black"),
    xaxis=dict(domain=[0, 1], anchor="y", **xcommon),
    xaxis2=dict(domain=[0, 1], anchor="y2", **xcommon),
    yaxis=dict(domain=dom_a, anchor="x", range=[30, 70], tickvals=[30, 40, 50, 60, 70],
               ticks="outside", ticklen=7, tickwidth=1, tickcolor="black", automargin=False,
               ticklabeloverflow="allow",
               showgrid=True, gridcolor="#333333", gridwidth=1, zeroline=False,
               showline=True, linewidth=3, linecolor="black", mirror="ticks",
               tickfont=dict(size=21, family=FONT),
               minor=dict(ticks="outside", ticklen=4, dtick=2, tick0=30, tickcolor="black", showgrid=False),
               title=dict(text="Horizontal velocity (m a<sup>-1</sup>)", font=dict(size=24, family=FONT), standoff=2)),
    yaxis2=dict(domain=dom_b, anchor="x2", range=[-0.107, 1.095], tickvals=[0, 0.5, 1.0],
                ticktext=["0.0", "0.5", "1.0"], automargin=False, ticklabeloverflow="allow",
                ticks="outside", ticklen=7, tickwidth=1, tickcolor="black",
                showgrid=True, gridcolor="#333333", gridwidth=1, zeroline=False,
                showline=True, linewidth=3, linecolor="black", mirror="ticks",
                tickfont=dict(size=21, family=FONT),
                minor=dict(ticks="outside", ticklen=4, dtick=0.1, tick0=0, tickcolor="black", showgrid=False),
                title=dict(text="Vertical displacement (m)", font=dict(size=24, family=FONT), standoff=2)),
)

shapes = []
for xa, ya in [("x", "y"), ("x2", "y2")]:
    for d in QUARTER_LINES:
        col = "#999999" if d in YEAR_STARTS else "#333333"
        shapes.append(dict(type="line", xref=xa, yref=ya + " domain", x0=d, x1=d, y0=0, y1=1,
                           line=dict(color=col, width=1), layer="below"))
    for d in YEAR_STARTS:
        shapes.append(dict(type="line", xref=xa, yref=ya + " domain", x0=d, x1=d, y0=0, y1=-30 / 428,
                           line=dict(color="black", width=1), layer="above"))
fig.update_layout(shapes=shapes)

ann = []
# panel letters
for lab, ya in [("a", "y"), ("b", "y2")]:
    ann.append(dict(text=lab, xref="x domain" if ya == "y" else "x2 domain", yref=ya + " domain",
                    x=0, y=1, xanchor="left", yanchor="top", showarrow=False,
                    bgcolor="black", borderpad=0, font=dict(size=31, color="white", family=FONT)))
# year labels
for lab, d in zip(YEAR_LABELS, YEAR_LABEL_DATES):
    ann.append(dict(text=lab, xref="x2", yref="paper", x=d, y=py(968),
                    xanchor="center", yanchor="middle", showarrow=False,
                    font=dict(size=21, family=FONT)))
# station labels (text legend)
COL_X = [983, 1047, 1110]
ROW_DY = [0, 20, 41, 63, 85, 107, 124]
for top in [43, 523]:
    for nm, c, r in LEGEND_ITEMS:
        ann.append(dict(text=nm, xref="paper", yref="paper",
                        x=px(COL_X[c]), y=py(top + ROW_DY[r]),
                        xanchor="center", yanchor="middle", showarrow=False,
                        bgcolor="white", borderpad=1,
                        font=dict(size=16, color=COLORS[nm], family=FONT)))
fig.update_layout(annotations=ann)

fig.write_html("out.html")
